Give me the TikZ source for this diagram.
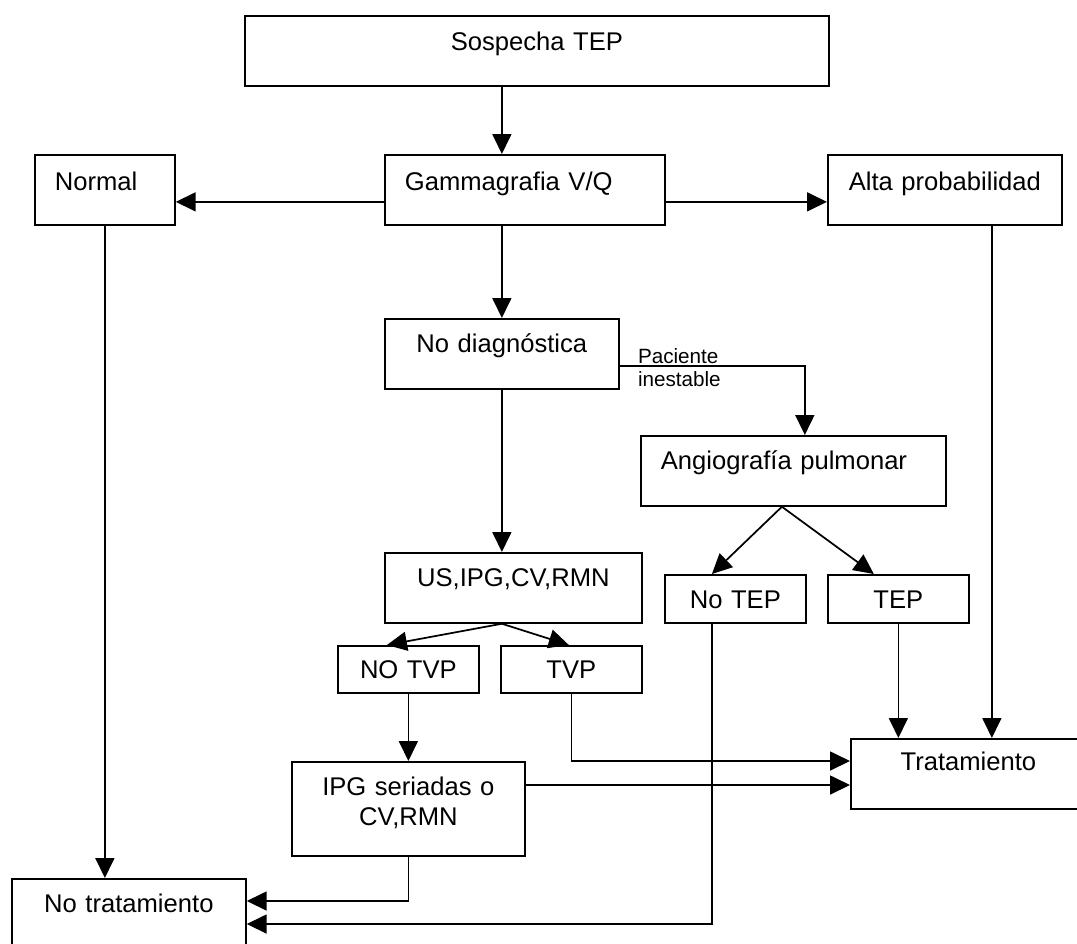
\documentclass[tikz,border=0pt]{standalone}
\usepackage{fontspec}
\setmainfont{Liberation Sans}
\usetikzlibrary{arrows.meta,calc}
\begin{document}
\begin{tikzpicture}[x=0.75pt,y=-0.75pt,
  box/.style={draw, line width=1.3pt, inner sep=0pt, anchor=north west,
    font=\fontsize{19.2pt}{22.5pt}\selectfont},
  cbox/.style={box, align=center},
  lbox/.style={box, align=left, inner xsep=15pt},
  arr/.style={line width=1.3pt, -{Triangle[length=15pt,width=14.25pt]}},
  lbl/.style={font=\fontsize{15.5pt}{17.25pt}\selectfont, align=left, inner sep=0pt}]
\useasboundingbox (0,0) rectangle (1077,943);

\node[cbox, minimum width=438pt, minimum height=52.5pt, text width=438pt, text height=26.25pt, text depth=26.25pt] (sosp) at (244,15) {Sospecha TEP};
\node[lbox, minimum width=105pt, minimum height=52.5pt, text width=75pt, text height=27pt, text depth=25.5pt] (norm) at (34,154) {Normal};
\node[lbox, minimum width=210pt, minimum height=52.5pt, text width=180pt, text height=27pt, text depth=25.5pt] (gam) at (384,154) {Gammagrafia V/Q};
\node[cbox, minimum width=175.5pt, minimum height=52.5pt, text width=175.5pt, text height=27pt, text depth=25.5pt] (alta) at (827,154) {Alta probabilidad};
\node[cbox, minimum width=175.5pt, minimum height=52.5pt, text width=175.5pt, text height=25.5pt, text depth=27pt] (nd) at (384,318) {No diagnóstica};
\node[lbox, minimum width=228.75pt, minimum height=52.5pt, text width=198.75pt, text height=25.5pt, text depth=27pt] (ang) at (640,435) {Angiografía pulmonar};
\node[cbox, minimum width=192.75pt, minimum height=52.5pt, text width=192.75pt, text height=25.5pt, text depth=27pt] (us) at (384,552) {US,IPG,CV,RMN};
\node[cbox, minimum width=105.75pt, minimum height=36pt, text width=105.75pt, text height=25.5pt, text depth=10.5pt] (notep) at (664,574) {No TEP};
\node[cbox, minimum width=105.75pt, minimum height=36pt, text width=105.75pt, text height=25.5pt, text depth=10.5pt] (tep) at (827,574) {TEP};
\node[cbox, minimum width=105.75pt, minimum height=35.25pt, text width=105.75pt, text height=24.75pt, text depth=10.5pt] (notvp) at (337,645) {NO TVP};
\node[cbox, minimum width=105.75pt, minimum height=35.25pt, text width=105.75pt, text height=24.75pt, text depth=10.5pt] (tvp) at (500,645) {TVP};
\node[cbox, minimum width=174.75pt, minimum height=70.5pt, text width=174.75pt, text height=25.5pt, text depth=45pt] (ipg) at (291,761) {IPG seriadas o\\CV,RMN};
\node[cbox, minimum width=176.25pt, minimum height=52.5pt, text width=176.25pt, text height=24pt, text depth=28.5pt] (trat) at (850,738) {Tratamiento};
\node[cbox, minimum width=175.5pt, minimum height=52.5pt, text width=175.5pt, text height=25.5pt, text depth=27pt] (notrat) at (11,878) {No tratamiento};

\node[lbl, anchor=base west] (pl) at ([xshift=13.5pt,yshift=-24.75pt]nd.east) {Paciente\\inestable};

\draw[arr] (sosp.south -| nd.north) -- (gam.north -| nd.north);
\draw[arr] ([yshift=-9pt]gam.west) -- ([yshift=-9pt]norm.east);
\draw[arr] ([yshift=-9pt]gam.east) -- ([yshift=-9pt]alta.west);
\draw[arr] (gam.south -| nd.north) -- (nd.north);
\draw[arr] (norm.south) -- (norm.south |- notrat.north);
\draw[arr] ([yshift=-9pt]nd.east) -| ([xshift=8.6pt]ang.north);
\draw[arr] ([xshift=35.25pt]alta.south) -- ([xshift=35.25pt]alta.south |- trat.north);
\draw[arr] (nd.south) -- (us.north -| nd.south);
\coordinate (ab) at ([xshift=-8.6pt]ang.south);
\draw[arr] (ab) -- ([xshift=-17.6pt]notep.north);
\draw[arr] (ab) -- ([xshift=-18.4pt]tep.north);
\coordinate (ub) at ([xshift=-8.6pt]us.south);
\draw[arr] (ub) -- ([xshift=-16.1pt]notvp.north);
\draw[arr] (ub) -- ([xshift=-1.9pt]tvp.north);
\draw[arr] (tep.south) -- (tep.south |- trat.north);
\draw[arr] (tvp.south) |- (trat.west |- 0,761);
\draw[arr] (notvp.south) -- (ipg.north);
\draw[arr] (ipg.east |- 0,785) -- (trat.west |- 0,785);
\draw[arr] (ipg.south) |- (notrat.east |- 0,901);
\draw[arr] ([xshift=-17.6pt]notep.south) |- (notrat.east |- 0,924);
\end{tikzpicture}
\end{document}
